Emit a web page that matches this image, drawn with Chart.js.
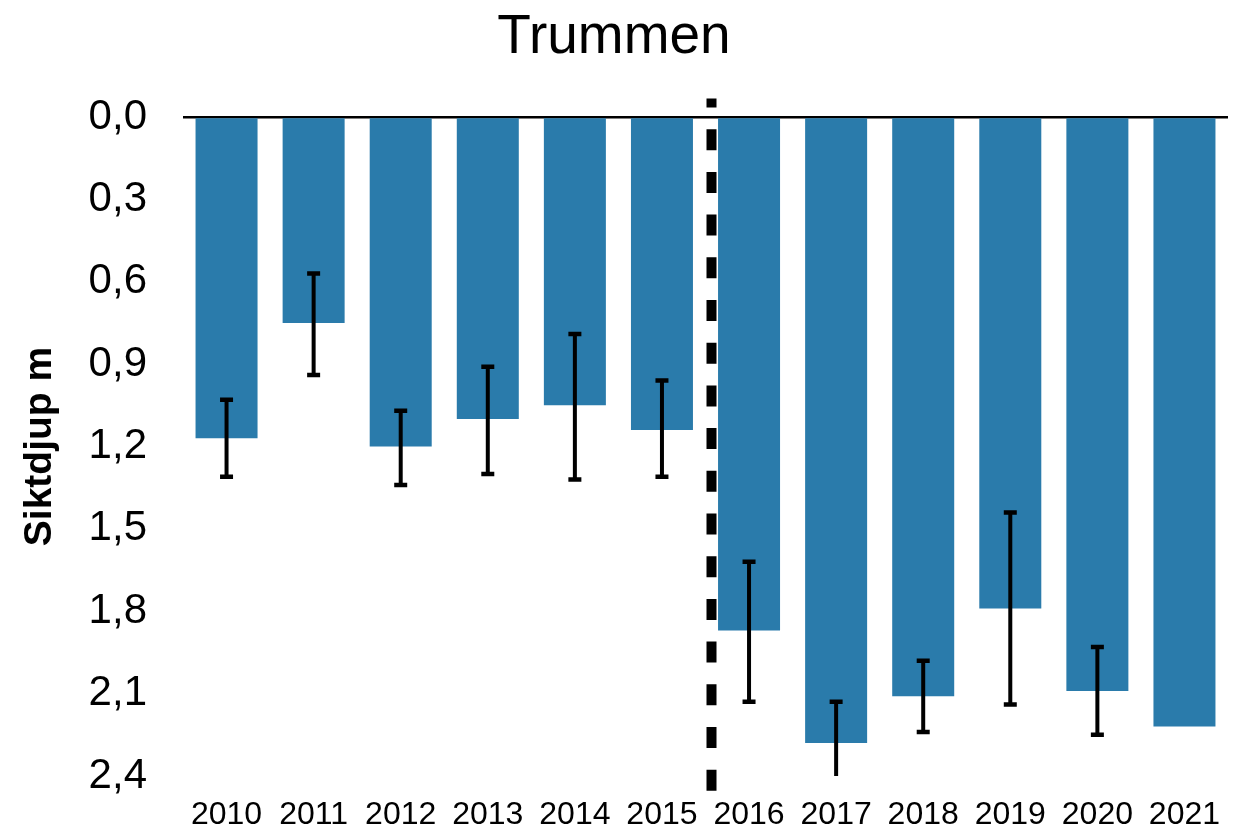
<!DOCTYPE html>
<html>
<head>
<meta charset="utf-8">
<title>Trummen</title>
<script src="https://cdn.jsdelivr.net/npm/chart.js@4/dist/chart.umd.min.js"></script>
<style>
  html, body { margin: 0; padding: 0; background: #fff; }
  canvas { display: block; }
</style>
</head>
<body>
<canvas id="chart" width="1238" height="828"></canvas>
<script>
// Siktdjup per year, Trummen (m)
const years = ["2010", "2011", "2012", "2013", "2014", "2015", "2016", "2017", "2018", "2019", "2020", "2021"];
const depth = [1.17, 0.75, 1.20, 1.10, 1.05, 1.14, 1.87, 2.28, 2.11, 1.79, 2.09, 2.22];
// error bar ends (shallow / deep), null = no bar
const errTop = [1.03, 0.57, 1.07, 0.91, 0.79, 0.96, 1.62, 2.13, 1.98, 1.44, 1.93, null];
const errBottom = [1.31, 0.94, 1.34, 1.30, 1.32, 1.31, 2.13, 2.45, 2.24, 2.14, 2.25, null];
const yTickValues = [0, 0.3, 0.6, 0.9, 1.2, 1.5, 1.8, 2.1, 2.4];
const yTickLabels = ["0,0", "0,3", "0,6", "0,9", "1,2", "1,5", "1,8", "2,1", "2,4"];
const splitAfter = "2015"; // dashed divider goes after this year

const FONT = "'Liberation Sans', Arial, Helvetica, sans-serif";
const BAR_COLOR = "#2a7bab";

const errorBars = {
  id: "errorBars",
  afterDatasetsDraw(chart) {
    const { ctx, chartArea, scales } = chart;
    const meta = chart.getDatasetMeta(0);
    ctx.save();
    ctx.beginPath();
    ctx.rect(chartArea.left, chartArea.top, chartArea.right - chartArea.left, chartArea.bottom - chartArea.top);
    ctx.clip();
    ctx.strokeStyle = "#000";
    meta.data.forEach((bar, i) => {
      if (errTop[i] == null) return;
      const x = bar.x;
      const y1 = scales.y.getPixelForValue(errTop[i]);
      const y2 = scales.y.getPixelForValue(errBottom[i]);
      ctx.lineWidth = 4;
      ctx.beginPath();
      ctx.moveTo(x, y1);
      ctx.lineTo(x, y2);
      ctx.stroke();
      ctx.lineWidth = 4.5;
      ctx.beginPath();
      ctx.moveTo(x - 6.5, y1);
      ctx.lineTo(x + 6.5, y1);
      ctx.moveTo(x - 6.5, y2);
      ctx.lineTo(x + 6.5, y2);
      ctx.stroke();
    });
    ctx.restore();
  }
};

const divider = {
  id: "divider",
  afterDraw(chart) {
    const { ctx, chartArea, scales } = chart;
    const i = years.indexOf(splitAfter);
    const x = (scales.x.getPixelForValue(i) + scales.x.getPixelForValue(i + 1)) / 2 + 6;
    ctx.save();
    ctx.strokeStyle = "#000";
    ctx.lineWidth = 10;
    ctx.setLineDash([21, 21.7]);
    ctx.lineDashOffset = 12;
    ctx.beginPath();
    ctx.moveTo(x, chartArea.top - 18.5);
    ctx.lineTo(x, chartArea.bottom + 16);
    ctx.stroke();
    ctx.restore();
  }
};

new Chart(document.getElementById("chart"), {
  type: "bar",
  data: {
    labels: years,
    datasets: [{
      data: depth,
      backgroundColor: BAR_COLOR,
      borderWidth: 0,
      categoryPercentage: 1,
      barPercentage: 0.712
    }]
  },
  options: {
    responsive: false,
    animation: false,
    events: [],
    layout: { padding: { top: 0, left: 0, right: 10, bottom: 0 } },
    plugins: {
      legend: { display: false },
      tooltip: { enabled: false },
      title: {
        display: true,
        text: "Trummen",
        color: "#000",
        font: { family: FONT, size: 55, weight: "normal", lineHeight: 1.2 },
        padding: { top: 5, bottom: 46 }
      }
    },
    scales: {
      x: {
        grid: { display: false },
        border: { display: false },
        ticks: {
          color: "#000",
          font: { family: FONT, size: 32 },
          padding: 12,
          maxRotation: 0,
          autoSkip: false
        },
        afterFit(scale) { scale.height = 52; }
      },
      y: {
        reverse: true,
        min: 0,
        max: 2.4,
        afterBuildTicks(axis) { axis.ticks = yTickValues.map((v) => ({ value: v })); },
        grid: {
          drawTicks: false,
          lineWidth: 2.5,
          color: (c) => (c.tick && c.tick.value === 0 ? "#000" : "rgba(0,0,0,0)")
        },
        border: { display: false },
        ticks: {
          color: "#000",
          // small lineHeight keeps the end-label padding from squeezing the plot
          font: { family: FONT, size: 42, lineHeight: 0.3 },
          padding: 36,
          callback: (v, i) => yTickLabels[i]
        },
        title: {
          display: true,
          text: "Siktdjup m",
          color: "#000",
          font: { family: FONT, size: 39, weight: "bold", lineHeight: 1.2 },
          padding: { top: 17, bottom: 0 }
        },
        afterFit(scale) { scale.width = 183; }
      }
    }
  },
  plugins: [errorBars, divider]
});
</script>
</body>
</html>
